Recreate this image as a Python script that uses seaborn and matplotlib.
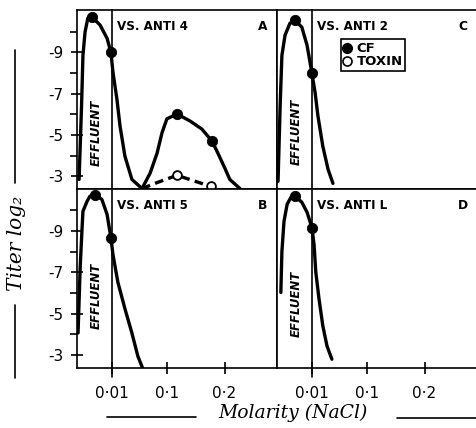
import matplotlib
matplotlib.use('Agg')
import matplotlib.pyplot as plt
import seaborn as sns
from matplotlib.lines import Line2D

# ---------- axis ticks (molarity axis is drawn unevenly, so positions are given) ----------
mol_pos = [1.0, 2.58, 4.22]
mol_labels = ['0·01', '0·1', '0·2']
titer_major = [3, 5, 7, 9]
titer_labels = ['-3', '-5', '-7', '-9']
titer_minor = [4, 6, 8, 10]

# ---------- A : vs anti 4 ----------
a_cf_x = [0.06, 0.13, 0.17, 0.23, 0.31, 0.43, 0.66, 0.86, 0.97, 1.03, 1.14, 1.23, 1.37, 1.57,
          1.86, 2.09, 2.29, 2.43, 2.57, 2.86, 3.23, 3.57, 3.86, 4.03, 4.23, 4.37, 4.66]
a_cf_y = [2.85, 6.41, 8.85, 9.98, 10.66, 10.71, 10.32, 9.68, 9.0, 8.02, 6.76, 5.44, 3.98, 2.85,
          2.41, 3.15, 4.12, 5.1, 5.78, 6.02, 5.68, 5.29, 4.71, 4.12, 3.39, 2.85, 2.41]
a_cf_pts_x = [0.43, 0.97, 2.86, 3.86]
a_cf_pts_y = [10.71, 9.0, 6.02, 4.71]
a_tox_x = [1.86, 2.31, 2.86, 3.31, 3.83]
a_tox_y = [2.41, 2.71, 3.05, 2.8, 2.51]
a_tox_pts_x = [2.86, 3.83]
a_tox_pts_y = [3.05, 2.51]

# ---------- C : vs anti 2 ----------
c_cf_x = [0.03, 0.09, 0.14, 0.23, 0.37, 0.51, 0.71, 0.86, 1.0, 1.09, 1.17, 1.31, 1.46, 1.6]
c_cf_y = [2.76, 6.41, 8.85, 9.83, 10.41, 10.56, 10.22, 9.34, 7.98, 7.05, 5.93, 4.46, 3.34, 2.66]
c_cf_pts_x = [0.51, 1.0]
c_cf_pts_y = [10.56, 7.98]

# ---------- B : vs anti 5 ----------
b_cf_x = [0.03, 0.09, 0.14, 0.17, 0.29, 0.37, 0.51, 0.71, 0.86, 0.97, 1.03, 1.17, 1.37, 1.57, 1.74, 1.89]
b_cf_y = [4.07, 7.21, 8.98, 9.96, 10.45, 10.69, 10.74, 10.54, 9.81, 8.68, 7.85, 6.52, 5.25, 4.07, 2.95, 2.31]
b_cf_pts_x = [0.51, 0.97]
b_cf_pts_y = [10.74, 8.68]

# ---------- D : vs anti L ----------
d_cf_x = [0.11, 0.14, 0.2, 0.29, 0.4, 0.51, 0.71, 0.86, 1.0, 1.06, 1.11, 1.2, 1.31, 1.43, 1.57]
d_cf_y = [6.03, 8.0, 9.47, 10.3, 10.64, 10.69, 10.4, 9.91, 9.17, 8.34, 7.01, 5.74, 4.42, 3.44, 2.8]
d_cf_pts_x = [0.51, 1.0]
d_cf_pts_y = [10.69, 9.17]

sns.set_style('ticks', {'axes.edgecolor': 'black', 'xtick.color': 'black',
                        'ytick.color': 'black', 'text.color': 'black'})
plt.rcParams['font.family'] = ['DejaVu Sans']

fig, axes = plt.subplots(2, 2, figsize=(4.77, 4.28), dpi=100, sharex=True, sharey=True)
fig.subplots_adjust(left=77/477, right=1.0, top=1-10/428, bottom=1-367.5/428, wspace=0, hspace=0)

panels = [
    (axes[0, 0], a_cf_x, a_cf_y, a_cf_pts_x, a_cf_pts_y, 'VS. ANTI 4', 'A', 0.315),
    (axes[0, 1], c_cf_x, c_cf_y, c_cf_pts_x, c_cf_pts_y, 'VS. ANTI 2', 'C', 0.32),
    (axes[1, 0], b_cf_x, b_cf_y, b_cf_pts_x, b_cf_pts_y, 'VS. ANTI 5', 'B', 0.40),
    (axes[1, 1], d_cf_x, d_cf_y, d_cf_pts_x, d_cf_pts_y, 'VS. ANTI L', 'D', 0.355),
]

for i, (ax, lx, ly, px, py, title, letter, eff_y) in enumerate(panels):
    bottom_row = i >= 2
    # effluent boundary at 0.01 M (runs a little below the axis on the bottom row)
    ax.axvline(1.0, ymin=-0.055 if bottom_row else 0, ymax=1, color='black', lw=1.2, clip_on=False)
    sns.lineplot(x=lx, y=ly, ax=ax, color='black', lw=2.4, sort=False, estimator=None,
                 solid_joinstyle='round', solid_capstyle='round')
    sns.scatterplot(x=px, y=py, ax=ax, color='black', edgecolor='black', s=55, zorder=5, clip_on=False)
    ax.text(0.2, 0.905, title, transform=ax.transAxes, fontsize=8.6, fontweight='bold', va='center')
    ax.text(0.93, 0.905, letter, transform=ax.transAxes, fontsize=8.8, fontweight='bold', va='center', ha='center')
    ax.text(0.55, eff_y, 'EFFLUENT', transform=ax.get_xaxis_transform(), rotation=90,
            fontsize=8.5, fontweight='bold', fontstyle='italic', ha='center', va='center')
    for s in ax.spines.values():
        s.set_linewidth(1.2)
    ax.spines['right'].set_visible(i in (0, 2))
    ax.spines['top'].set_visible(True)

# toxin in panel A
ax_a = axes[0, 0]
sns.lineplot(x=a_tox_x, y=a_tox_y, ax=ax_a, color='black', lw=2.4, sort=False, estimator=None,
             linestyle='--', dashes=False)
ax_a.lines[-1].set_dashes((2.6, 1.6))
sns.scatterplot(x=a_tox_pts_x, y=a_tox_pts_y, ax=ax_a, color='white', edgecolor='black',
                linewidth=1.3, s=40, zorder=6, clip_on=False)

ax_a.set_xlim(0, 5.72)
ax_a.set_ylim(2.4, 11.05)
ax_a.set_yticks(titer_major)
ax_a.set_yticklabels(titer_labels)
ax_a.set_yticks(titer_minor, minor=True)
ax_a.set_xticks(mol_pos)
ax_a.set_xticklabels(mol_labels)

for ax in axes.flat:
    ax.set_xlabel('')
    ax.set_ylabel('')
    ax.tick_params(axis='y', which='major', direction='inout', length=9, width=1.2, pad=5.5, labelsize=11)
    ax.tick_params(axis='y', which='minor', direction='out', length=5, width=1.2)
    ax.tick_params(axis='x', which='major', direction='inout', length=8, width=1.2, pad=9, labelsize=11)
for ax in axes[:, 1]:
    ax.tick_params(axis='y', which='both', length=0, labelleft=False)
for ax in axes[0, :]:
    ax.tick_params(axis='x', which='both', length=0, labelbottom=False)

# legend in panel C
handles = [Line2D([], [], marker='o', color='black', ls='none', markersize=7),
           Line2D([], [], marker='o', mfc='white', mec='black', mew=1.2, ls='none', markersize=6.5)]
leg = axes[0, 1].legend(handles, ['CF', 'TOXIN'], loc='upper left', bbox_to_anchor=(0.318, 0.835),
                        frameon=True, fancybox=False, edgecolor='black', framealpha=1,
                        handlelength=0.6, handletextpad=0.4, borderpad=0.2, labelspacing=0.0,
                        borderaxespad=0, prop=dict(weight='bold', size=9.5))
leg.get_frame().set_linewidth(1.2)

# axis titles with their long rules
W, H = 477, 428
fig.text(17/W, 1-243/H, 'Titer log₂', rotation=90, ha='center', va='center',
         family='DejaVu Serif', style='italic', fontsize=14.5)
fig.text(293/W, 1-413/H, 'Molarity (NaCl)', ha='center', va='center',
         family='DejaVu Serif', style='italic', fontsize=13.5)
for (x0, y0, x1, y1) in [(15, 50, 15, 183), (15, 305, 15, 378), (107, 417, 196, 417), (397, 418, 477, 418)]:
    fig.add_artist(Line2D([x0/W, x1/W], [1-y0/H, 1-y1/H], transform=fig.transFigure, color='black', lw=1.2))

fig.savefig('out.png', dpi=100)
